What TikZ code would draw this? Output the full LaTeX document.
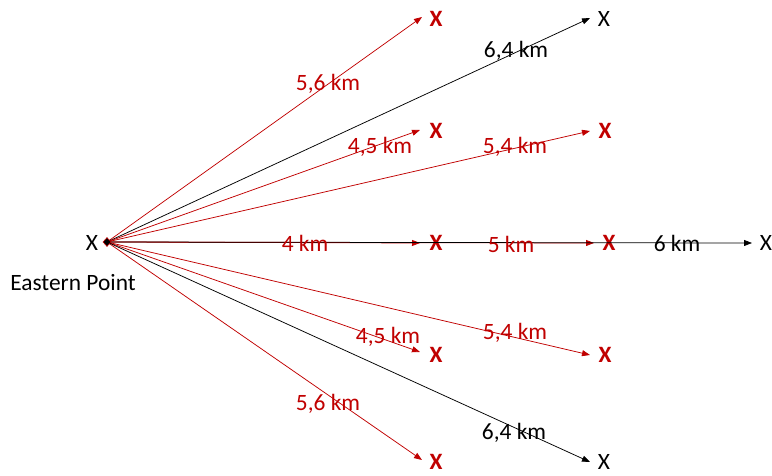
\documentclass[tikz,border=0pt]{standalone}
\usepackage{fontspec}
\setmainfont{Carlito}
\usetikzlibrary{arrows.meta,shapes.geometric}
\definecolor{dred}{RGB}{192,0,0}
\tikzset{
  redarr/.style={draw=dred, line width=0.75bp, -{Triangle[length=8bp,width=6bp]}},
  blkarr/.style={draw=black, line width=0.75bp, -{Triangle[length=8bp,width=6bp]}},
  redlbl/.style={text=dred, font=\fontsize{23.5}{27}\selectfont, inner sep=0pt},
  blklbl/.style={text=black, font=\fontsize{23.5}{27}\selectfont, inner sep=0pt},
  redx/.style={text=dred, font=\fontsize{23.5}{27}\selectfont\bfseries, inner sep=0pt},
  blkx/.style={text=black, font=\fontsize{23.5}{27}\selectfont, inner sep=0pt},
}
\begin{document}
\begin{tikzpicture}[x=1bp,y=-1bp]
\useasboundingbox (0,0) rectangle (772,476);
% origin
\coordinate (O) at (107,242);
% tips
\coordinate (t1) at (422,17);
\coordinate (t2) at (590,18);
\coordinate (t3) at (420,130);
\coordinate (t4) at (590,131);
\coordinate (t5) at (420,243);
\coordinate (t6) at (594,243);
\coordinate (t7) at (752,243);
\coordinate (t8) at (420,352);
\coordinate (t9) at (590,355);
\coordinate (t10) at (422,460);
\coordinate (t11) at (590,462);
% X labels
\node[redx] (x1) at (436,19) {X};
\node[blkx] (x2) at (604,19) {X};
\node[redx] (x3) at (436,131) {X};
\node[redx] (x4) at (605,131) {X};
\node[redx] (x5) at (436,243) {X};
\node[redx] (x6) at (609,243) {X};
\node[blkx] (x7) at (766,243) {X};
\node[redx] (x8) at (436,355) {X};
\node[redx] (x9) at (605,355) {X};
\node[redx] (x10) at (436,462) {X};
\node[blkx] (x11) at (604,462) {X};
\node[blkx] (x0) at (92,243) {X};
\node[blklbl] (ep) at (73,283) {Eastern Point};
% connectors
\draw[redarr] (O) -- (t1);
\draw[blkarr] (O) -- (t2);
\draw[redarr] (O) -- (t3);
\draw[redarr] (O) -- (t4);
\draw[redarr] (O) -- (t5);
\draw[redarr] (O) -- (t6);
\draw[blkarr] (O) -- (t7);
\draw[redarr] (O) -- (t8);
\draw[redarr] (O) -- (t9);
\draw[redarr] (O) -- (t10);
\draw[blkarr] (O) -- (t11);
% origin marker
\node[diamond, fill=black, draw=dred, line width=0.6bp, minimum width=8bp, minimum height=9bp, inner sep=0pt] (om) at (O) {};
% distance labels
\node[redlbl] (l1) at (328,84) {5,6 km};
\node[blklbl] (l2) at (516,51) {6,4 km};
\node[redlbl] (l3) at (380,147) {4,5 km};
\node[redlbl] (l4) at (515,147) {5,4 km};
\node[redlbl] (l5) at (305,243) {4 km};
\node[redlbl] (l6) at (511,244) {5 km};
\node[blklbl] (l7) at (677,243) {6 km};
\node[redlbl] (l8) at (388,337) {4,5 km};
\node[redlbl] (l9) at (515,333) {5,4 km};
\node[redlbl] (l10) at (328,404) {5,6 km};
\node[blklbl] (l11) at (514,433) {6,4 km};
\end{tikzpicture}
\end{document}
